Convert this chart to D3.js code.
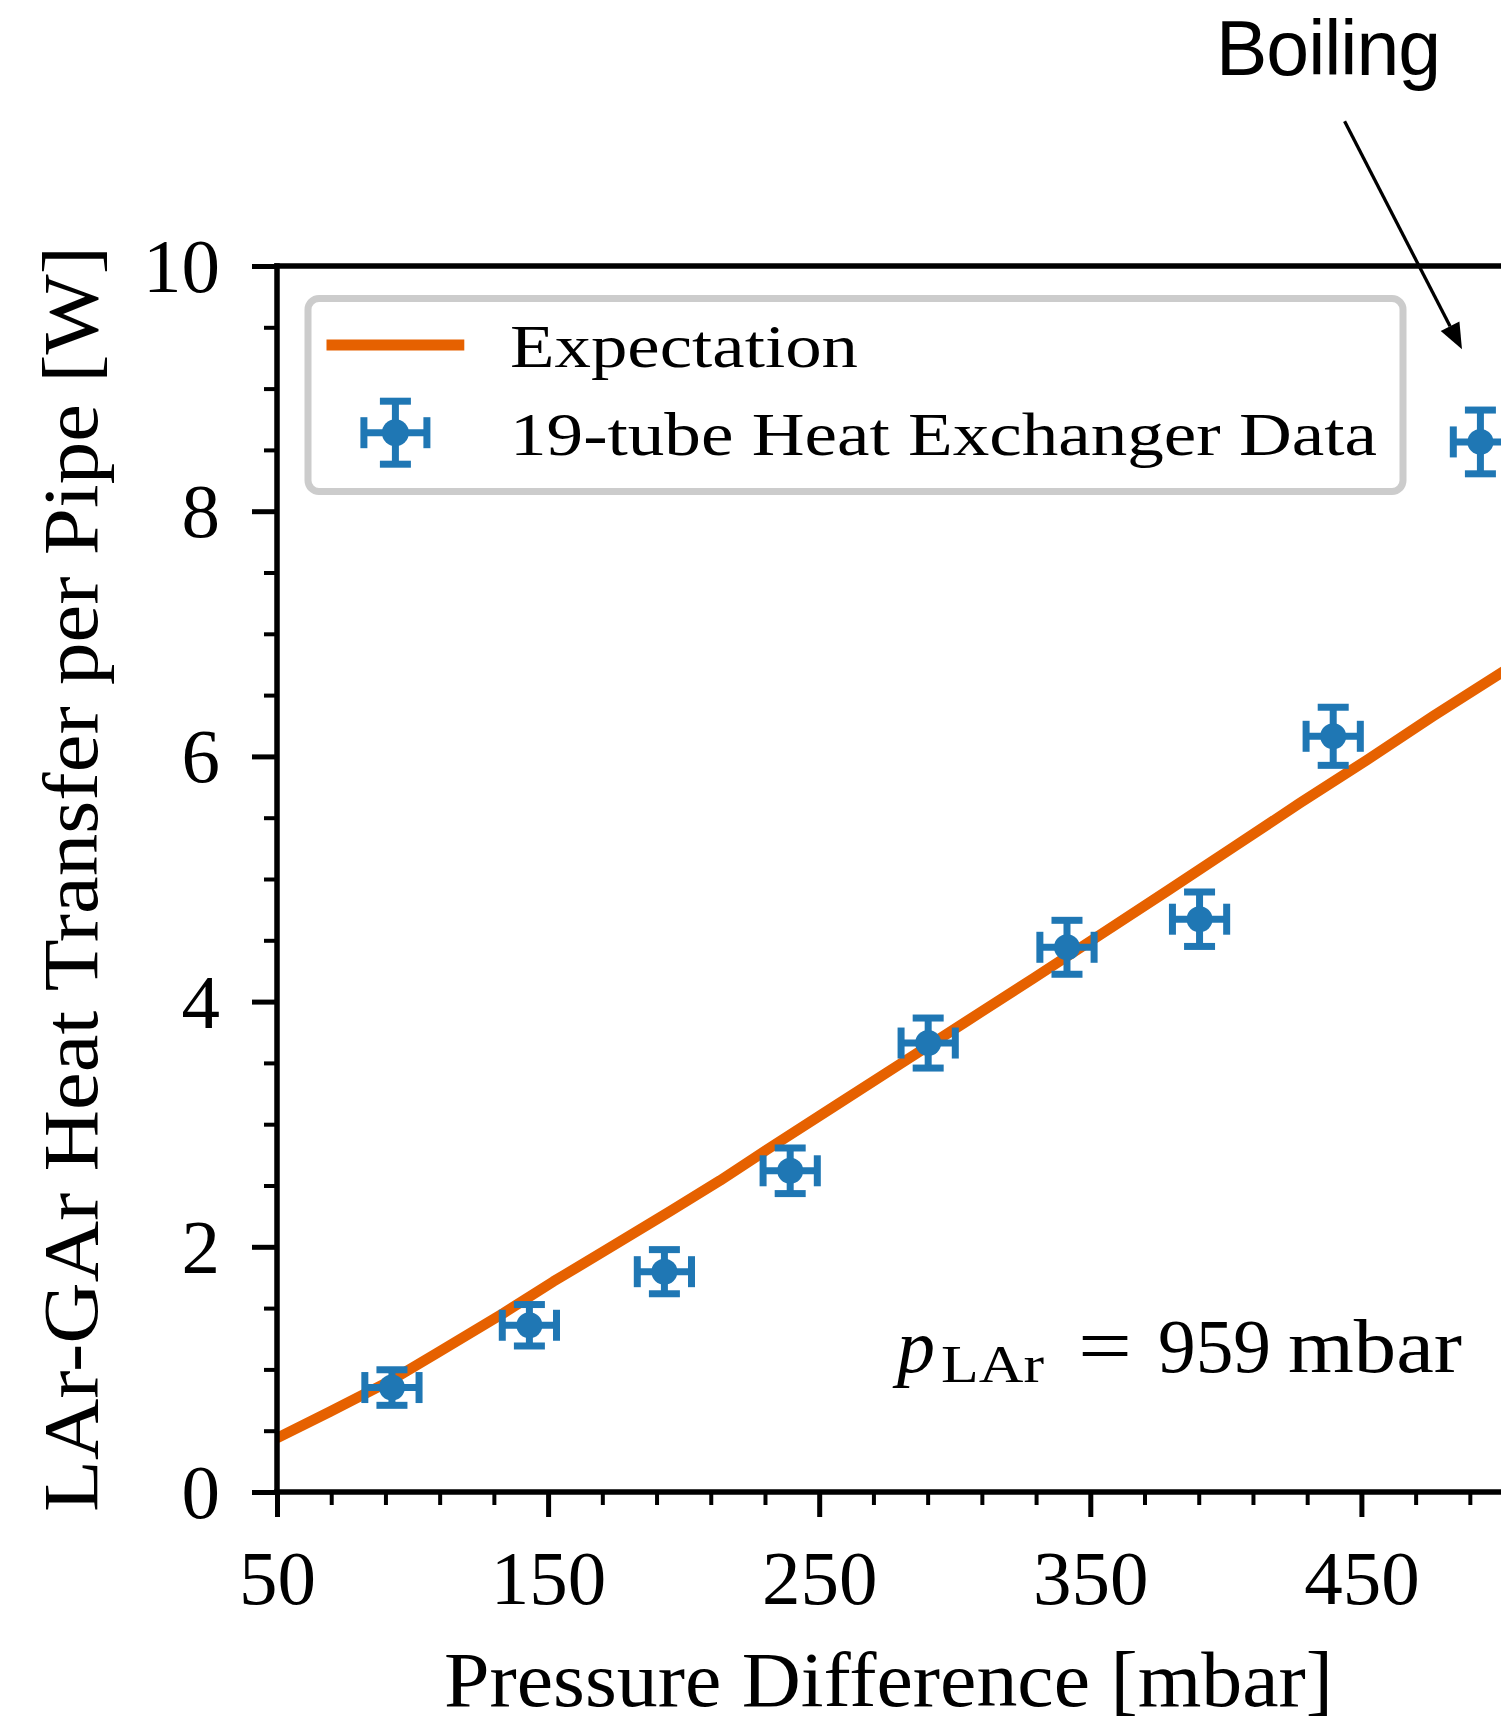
<!DOCTYPE html>
<html>
<head>
<meta charset="utf-8">
<script src="https://cdn.jsdelivr.net/npm/d3@7/dist/d3.min.js"></script>
<style>
  body { margin: 0; background: #fff; }
  svg { display: block; }
</style>
</head>
<body>
<svg id="chart" width="1501" height="1723"></svg>
<script>
// 19-tube heat exchanger measurements
var pressure    = [92.4, 143.1, 192.9, 239.3, 290.2, 341.4, 390.3, 439.6, 493.9];
var heat        = [0.852, 1.36, 1.797, 2.62, 3.662, 4.443, 4.672, 6.164, 8.565];
var pressureErr = [10, 10, 10, 10, 10, 10, 10, 10, 10];
var heatErr     = [0.145, 0.169, 0.18, 0.186, 0.204, 0.22, 0.222, 0.237, 0.26];

// expectation curve
var expPressure = [50, 69.5, 92.3, 108.9, 133.5, 151.9, 170.4, 195, 213.4, 230.6, 255.2, 279.8, 304.4, 329, 353.6, 378.2, 402.8, 427.4, 452, 476.6, 501.5, 510];
var expHeat     = [0.44, 0.655, 0.913, 1.131, 1.458, 1.716, 1.961, 2.29, 2.54, 2.79, 3.14, 3.49, 3.84, 4.19, 4.545, 4.9, 5.26, 5.62, 5.97, 6.33, 6.68, 6.8];

var xMajorTicks = [50, 150, 250, 350, 450];
var yMajorTicks = [0, 2, 4, 6, 8, 10];

var boilingText  = [437.7, 11.56];
var boilingStart = [443.8, 11.18];
var boilingTip   = [487.1, 9.32];

var SERIF = "'Liberation Serif', 'Times New Roman', serif",
    BLUE = "#1f77b4",
    ORANGE = "#e66100",
    MARGINS = { top: 266, left: 277, bottom: 231 },
    WIDTH = 1501,
    HEIGHT = 1723;

var vis = d3.select("#chart");
vis.append("rect").attr("width", WIDTH).attr("height", HEIGHT).attr("fill", "#fff");

var xScale = d3.scaleLinear().domain([50, 510]).range([MARGINS.left, MARGINS.left + 460 * 2.711]),
    yScale = d3.scaleLinear().domain([0, 10]).range([HEIGHT - MARGINS.bottom, MARGINS.top]);

var x0 = xScale.range()[0], x1 = xScale.range()[1],
    y0 = yScale.range()[0], y1 = yScale.range()[1];

vis.append("defs").append("clipPath").attr("id", "plotclip")
  .append("rect").attr("x", x0).attr("y", y1).attr("width", x1 - x0).attr("height", y0 - y1);

// expectation line
var lineGen = d3.line()
    .x(function(d) { return xScale(d[0]); })
    .y(function(d) { return yScale(d[1]); });

vis.append("path")
    .attr("clip-path", "url(#plotclip)")
    .attr("d", lineGen(d3.zip(expPressure, expHeat)))
    .attr("stroke", ORANGE)
    .attr("stroke-width", 10.5)
    .attr("stroke-linejoin", "round")
    .attr("fill", "none");

// error bars
var pts = d3.range(pressure.length).map(function(i) {
  return { x: pressure[i], y: heat[i], ex: pressureErr[i], ey: heatErr[i] };
});

var CAP = 15.5, EW = 7;
var eb = vis.append("g").attr("stroke", BLUE).attr("stroke-width", EW).attr("fill", "none");
pts.forEach(function(p) {
  var cx = xScale(p.x), cy = yScale(p.y),
      xl = xScale(p.x - p.ex), xr = xScale(p.x + p.ex),
      yt = yScale(p.y + p.ey), yb = yScale(p.y - p.ey);
  eb.append("line").attr("x1", xl).attr("x2", xr).attr("y1", cy).attr("y2", cy);
  eb.append("line").attr("x1", cx).attr("x2", cx).attr("y1", yt).attr("y2", yb);
  eb.append("line").attr("x1", xl).attr("x2", xl).attr("y1", cy - CAP).attr("y2", cy + CAP);
  eb.append("line").attr("x1", xr).attr("x2", xr).attr("y1", cy - CAP).attr("y2", cy + CAP);
  eb.append("line").attr("x1", cx - CAP).attr("x2", cx + CAP).attr("y1", yt).attr("y2", yt);
  eb.append("line").attr("x1", cx - CAP).attr("x2", cx + CAP).attr("y1", yb).attr("y2", yb);
});

vis.append("g").selectAll("circle").data(pts).enter().append("circle")
    .attr("cx", function(d) { return xScale(d.x); })
    .attr("cy", function(d) { return yScale(d.y); })
    .attr("r", 13)
    .attr("fill", BLUE);

// axes
var xMinor = d3.range(50, 511, 20).filter(function(v) { return (v - 50) % 100 !== 0; }),
    yMinor = d3.range(0, 10.01, 0.5).filter(function(v) { return v % 2 !== 0; });

function styleAxis(g) {
  g.attr("font-family", SERIF).attr("font-size", 77);
  g.selectAll(".tick text").attr("fill", "#000");
  g.select(".domain").remove();
}

vis.append("g")
    .attr("transform", "translate(0," + y0 + ")")
    .call(d3.axisBottom(xScale).tickValues(xMinor).tickSize(13).tickFormat("").tickSizeOuter(0))
    .call(styleAxis)
    .selectAll("line").attr("stroke-width", 4);

var gx = vis.append("g")
    .attr("transform", "translate(0," + y0 + ")")
    .call(d3.axisBottom(xScale).tickValues(xMajorTicks).tickSize(25).tickSizeOuter(0))
    .call(styleAxis);
gx.selectAll("line").attr("stroke-width", 5);
gx.selectAll("text").attr("dy", null).attr("y", 112);

vis.append("g")
    .attr("transform", "translate(" + x0 + ",0)")
    .call(d3.axisLeft(yScale).tickValues(yMinor).tickSize(13).tickFormat("").tickSizeOuter(0))
    .call(styleAxis)
    .selectAll("line").attr("stroke-width", 4);

var gy = vis.append("g")
    .attr("transform", "translate(" + x0 + ",0)")
    .call(d3.axisLeft(yScale).tickValues(yMajorTicks).tickSize(25).tickPadding(32).tickSizeOuter(0))
    .call(styleAxis);
gy.selectAll("line").attr("stroke-width", 5);
gy.selectAll("text").attr("dy", "0.33em");

// spines
var spines = vis.append("g").attr("stroke", "#000").attr("stroke-width", 5.5).attr("stroke-linecap", "square");
spines.append("line").attr("x1", x0).attr("x2", x1).attr("y1", y0).attr("y2", y0);
spines.append("line").attr("x1", x0).attr("x2", x1).attr("y1", y1).attr("y2", y1);
spines.append("line").attr("x1", x0).attr("x2", x0).attr("y1", y0).attr("y2", y1);
spines.append("line").attr("x1", x1).attr("x2", x1).attr("y1", y0).attr("y2", y1);

// axis labels
vis.append("text")
    .attr("x", (x0 + x1) / 2 - 12).attr("y", 1706)
    .attr("text-anchor", "middle")
    .attr("font-family", SERIF).attr("font-size", 78)
    .attr("textLength", 889).attr("lengthAdjust", "spacingAndGlyphs")
    .text("Pressure Difference [mbar]");

vis.append("text")
    .attr("transform", "translate(97," + (y0 + y1) / 2 + ") rotate(-90)")
    .attr("text-anchor", "middle")
    .attr("font-family", SERIF).attr("font-size", 78)
    .attr("textLength", 1266).attr("lengthAdjust", "spacingAndGlyphs")
    .text("LAr-GAr Heat Transfer per Pipe [W]");

// legend
var legend = vis.append("g");
legend.append("rect")
    .attr("x", 308).attr("y", 298.5).attr("width", 1095).attr("height", 193)
    .attr("rx", 11)
    .attr("fill", "#fff").attr("fill-opacity", 0.8)
    .attr("stroke", "#cccccc").attr("stroke-width", 7);
legend.append("line")
    .attr("x1", 326.5).attr("x2", 464.3).attr("y1", 345).attr("y2", 345)
    .attr("stroke", ORANGE).attr("stroke-width", 11);
legend.append("text")
    .attr("x", 510).attr("y", 367.3)
    .attr("font-family", SERIF).attr("font-size", 62)
    .attr("textLength", 348).attr("lengthAdjust", "spacingAndGlyphs")
    .text("Expectation");

var lx = 395.4, ly = 432.7, lg = legend.append("g").attr("stroke", BLUE).attr("stroke-width", EW);
lg.append("line").attr("x1", lx - 31.5).attr("x2", lx + 31.5).attr("y1", ly).attr("y2", ly);
lg.append("line").attr("x1", lx).attr("x2", lx).attr("y1", ly - 31.5).attr("y2", ly + 31.5);
lg.append("line").attr("x1", lx - 31.5).attr("x2", lx - 31.5).attr("y1", ly - CAP).attr("y2", ly + CAP);
lg.append("line").attr("x1", lx + 31.5).attr("x2", lx + 31.5).attr("y1", ly - CAP).attr("y2", ly + CAP);
lg.append("line").attr("x1", lx - CAP).attr("x2", lx + CAP).attr("y1", ly - 31.5).attr("y2", ly - 31.5);
lg.append("line").attr("x1", lx - CAP).attr("x2", lx + CAP).attr("y1", ly + 31.5).attr("y2", ly + 31.5);
legend.append("circle").attr("cx", lx).attr("cy", ly).attr("r", 13.5).attr("fill", BLUE);
legend.append("text")
    .attr("x", 510).attr("y", 455)
    .attr("font-family", SERIF).attr("font-size", 62)
    .attr("textLength", 867).attr("lengthAdjust", "spacingAndGlyphs")
    .text("19-tube Heat Exchanger Data");

// p_LAr annotation
var ann = vis.append("g").attr("font-family", SERIF).attr("fill", "#000");
ann.append("text").attr("x", 897).attr("y", 1371.5).attr("font-size", 76).attr("font-style", "italic").text("p");
ann.append("text").attr("x", 941).attr("y", 1382).attr("font-size", 52).attr("textLength", 103).attr("lengthAdjust", "spacingAndGlyphs").text("LAr");
ann.append("text").attr("x", 1078).attr("y", 1371.5).attr("font-size", 78).attr("textLength", 54).attr("lengthAdjust", "spacingAndGlyphs").text("=");
ann.append("text").attr("x", 1158).attr("y", 1371.5).attr("font-size", 76).attr("textLength", 113).attr("lengthAdjust", "spacingAndGlyphs").text("959");
ann.append("text").attr("x", 1288).attr("y", 1371.5).attr("font-size", 76).attr("textLength", 174).attr("lengthAdjust", "spacingAndGlyphs").text("mbar");

// boiling annotation
vis.append("text")
    .attr("x", xScale(boilingText[0])).attr("y", yScale(boilingText[1]))
    .attr("text-anchor", "middle")
    .attr("font-family", "'Liberation Sans', Arial, sans-serif").attr("font-size", 77)
    .attr("letter-spacing", -1)
    .text("Boiling");

var ax0 = xScale(boilingStart[0]), ay0 = yScale(boilingStart[1]),
    ax1 = xScale(boilingTip[0]), ay1 = yScale(boilingTip[1]),
    len = Math.hypot(ax1 - ax0, ay1 - ay0),
    ux = (ax1 - ax0) / len, uy = (ay1 - ay0) / len,
    HL = 26, HW = 10.5;

vis.append("line")
    .attr("x1", ax0).attr("y1", ay0)
    .attr("x2", ax1 - ux * HL).attr("y2", ay1 - uy * HL)
    .attr("stroke", "#000").attr("stroke-width", 3.3);
vis.append("path")
    .attr("d", "M" + ax1 + "," + ay1 +
               "L" + (ax1 - ux * HL - uy * HW) + "," + (ay1 - uy * HL + ux * HW) +
               "L" + (ax1 - ux * HL + uy * HW) + "," + (ay1 - uy * HL - ux * HW) + "Z")
    .attr("fill", "#000");
</script>
</body>
</html>
